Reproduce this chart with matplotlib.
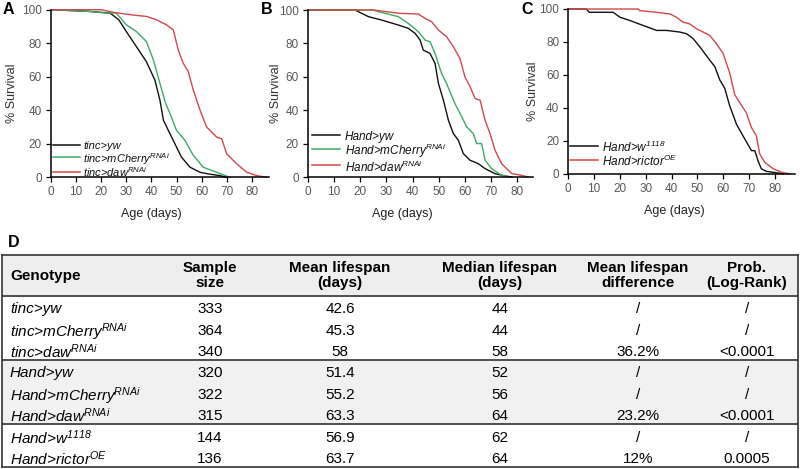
import matplotlib
matplotlib.use("Agg")
import matplotlib.pyplot as plt

plt.rcParams["font.family"] = ["Liberation Sans", "DejaVu Sans"]
plt.rcParams["mathtext.fontset"] = "custom"
plt.rcParams["mathtext.rm"] = "Liberation Sans:italic"
plt.rcParams["mathtext.it"] = "Liberation Sans:italic"
plt.rcParams["mathtext.default"] = "it"

# --- survival curves (age in days, % survival) ---
a_yw_age = [0, 15, 23.5, 27, 30, 34, 38, 41.4, 43.4, 44.8, 48.7, 52, 55.4, 59.4, 62.7, 67.3, 70]
a_yw_surv = [100, 99, 98, 94, 87, 78, 69, 58, 46, 34, 22, 12, 6, 3, 2, 1, 0]
a_mch_age = [0, 15, 22, 26, 30, 34, 38, 40.8, 43.4, 45.7, 47.4, 50, 53.4, 56.7, 60.7, 66, 68.7, 71.3]
a_mch_surv = [100, 99, 98, 98, 91, 87, 81, 70, 56, 44, 38, 28, 22, 13, 6, 3, 1.4, 0]
a_daw_age = [0, 20, 25, 32.8, 38, 42, 46, 48.7, 50.7, 52.7, 54.7, 56.7, 59.4, 62, 66, 68, 70, 74, 78, 82, 86]
a_daw_surv = [100, 100, 98.4, 96.8, 96, 94, 91, 88, 76, 68, 63, 52, 40, 30, 24, 23, 14, 8, 3, 1, 0]

b_yw_age = [0, 18, 20.6, 23.2, 28.2, 34.6, 38.4, 41, 42.9, 44.1, 46.7, 48.6, 49.9, 51.8, 53.7, 55.6,
            57.5, 59.4, 62, 65.1, 67.7, 71.5, 75.3, 78]
b_yw_surv = [100, 100, 98, 96, 94, 91, 89, 86, 82, 76, 74, 68, 56, 46, 34, 26, 22, 14, 10, 8, 5, 2, 0.6, 0]
b_mch_age = [0, 25, 27, 34.6, 38.4, 42.2, 44.8, 46.7, 48.6, 51.1, 53, 56.2, 58.8, 60.7, 63.2, 64.5,
             66.4, 67.7, 70.2, 74, 76.6]
b_mch_surv = [100, 100, 99, 96, 92, 87, 82, 81, 74, 62, 56, 44, 36, 30, 26, 20, 20, 10, 5, 1, 0]
b_daw_age = [0, 25, 30, 35, 42.2, 44.8, 47.3, 49.9, 53, 55.6, 58.1, 60, 62, 63.9, 65.8, 67.7, 69.6,
             71.5, 74, 77.9, 81.7, 84]
b_daw_surv = [100, 100, 99, 98, 97.6, 95, 93, 88, 84, 78, 71, 60, 54, 47, 46, 34, 26, 16, 8, 2, 1, 0]

c_w_age = [0, 7, 8.1, 17.4, 20, 23.9, 29, 34.2, 38, 43.2, 45.8, 48.4, 51, 54.8, 56.8, 58.7, 60.6,
           62.6, 65.2, 67.7, 71, 72.3, 73.5, 74.8, 76.8, 80.6, 83.2]
c_w_surv = [100, 100, 98, 98, 95, 93, 90, 87, 87, 86, 85, 82, 77, 69, 65, 57, 52, 41, 30, 23, 14, 14,
            8, 3, 1.4, 0.6, 0]
c_ric_age = [0, 27, 27.7, 34.2, 39.4, 41.9, 44.5, 47, 49.7, 54.8, 57.4, 60, 62.6, 64.5, 66.5, 69, 71,
             72.9, 74.2, 76.1, 79.4, 83.2, 85.8]
c_ric_surv = [100, 100, 99, 98, 97, 95, 92, 91, 88, 84, 79, 73, 61, 48, 43, 37, 28, 23, 12, 7, 3, 0.6, 0]

# --- table D ---
genotypes = ["tinc>yw", "tinc>mCherry$^{RNAi}$", "tinc>daw$^{RNAi}$",
             "Hand>yw", "Hand>mCherry$^{RNAi}$", "Hand>daw$^{RNAi}$",
             "Hand>w$^{1118}$", "Hand>rictor$^{OE}$"]
sample_size = ["333", "364", "340", "320", "322", "315", "144", "136"]
mean_lifespan = ["42.6", "45.3", "58", "51.4", "55.2", "63.3", "56.9", "63.7"]
median_lifespan = ["44", "44", "58", "52", "56", "64", "62", "64"]
mean_diff = ["/", "/", "36.2%", "/", "/", "23.2%", "/", "12%"]
prob = ["/", "/", "<0.0001", "/", "/", "<0.0001", "/", "0.0005"]
headers = ["Genotype", "Sample\nsize", "Mean lifespan\n(days)", "Median lifespan\n(days)",
           "Mean lifespan\ndifference", "Prob.\n(Log-Rank)"]

BLACK = "#111111"
GREEN = "#3dab62"
RED = "#d24848"
TICK = "#595959"

W, H = 800, 469
fig = plt.figure(figsize=(W / 100, H / 100), dpi=100)


def px_axes(left, top, right, bottom):
    return fig.add_axes([left / W, 1 - bottom / H, (right - left) / W, (bottom - top) / H])


def style_axes(ax, xmax, ylab_off, xlab_age):
    ax.set_xlim(0, xmax)
    ax.set_ylim(0, 100)
    ax.set_xticks(range(0, 81, 10))
    ax.set_yticks(range(0, 101, 20))
    for s in ["top", "right"]:
        ax.spines[s].set_visible(False)
    for s in ["left", "bottom"]:
        ax.spines[s].set_linewidth(1.1)
    ax.tick_params(direction="out", length=3.5, width=0.9, labelsize=8.5,
                   labelcolor=TICK, pad=3)
    ax.set_ylabel("% Survival", fontsize=9, color="#333333")
    ax.set_xlabel("Age (days)", fontsize=9, color="#222222")
    bb = ax.get_position()
    ax.yaxis.set_label_coords(-ylab_off / (bb.width * W), 0.5)
    ax.xaxis.set_label_coords(xlab_age / xmax, -31 / (bb.height * H))


def draw_legend(ax, entries, x0, x1, xt, ys, fs):
    for (lab, col), y in zip(entries, ys):
        fy = 1 - y / H
        ax.plot([x0 / W, x1 / W], [fy, fy], color=col, lw=1.1, transform=fig.transFigure,
                clip_on=False)
        ax.text(xt / W, fy, lab, transform=fig.transFigure, fontsize=fs, style="italic",
                va="center_baseline", ha="left", color="#111111")


# panel A
axA = px_axes(51, 9.7, 51 + 87 * 2.51, 177.3)
axA.plot(a_yw_age, a_yw_surv, color=BLACK, lw=1.0, clip_on=False)
axA.plot(a_mch_age, a_mch_surv, color=GREEN, lw=1.0, clip_on=False)
axA.plot(a_daw_age, a_daw_surv, color=RED, lw=1.0, clip_on=False)
style_axes(axA, 87, 33, 40)
draw_legend(axA, [("tinc>yw", BLACK), ("tinc>mCherry$^{RNAi}$", GREEN), ("tinc>daw$^{RNAi}$", RED)],
            53, 80, 83, [145, 157, 171.5], 8)

# panel B
axB = px_axes(307.7, 10, 307.7 + 86 * 2.62, 177)
axB.plot(b_yw_age, b_yw_surv, color=BLACK, lw=1.0, clip_on=False)
axB.plot(b_mch_age, b_mch_surv, color=GREEN, lw=1.0, clip_on=False)
axB.plot(b_daw_age, b_daw_surv, color=RED, lw=1.0, clip_on=False)
style_axes(axB, 86, 26, 36)
draw_legend(axB, [("Hand>yw", BLACK), ("Hand>mCherry$^{RNAi}$", GREEN), ("Hand>daw$^{RNAi}$", RED)],
            312, 340, 345, [135, 148.5, 165.5], 8.5)

# panel C
axC = px_axes(568.3, 9, 568.3 + 88 * 2.58, 173.7)
axC.plot(c_w_age, c_w_surv, color=BLACK, lw=1.0, clip_on=False)
axC.plot(c_ric_age, c_ric_surv, color=RED, lw=1.0, clip_on=False)
style_axes(axC, 88, 29, 41)
draw_legend(axC, [("Hand>w$^{1118}$", BLACK), ("Hand>rictor$^{OE}$", RED)],
            570, 598, 602, [145.7, 160], 8.5)

# panel letters
for lab, x, y in [("A", 8, 10), ("B", 267, 10), ("C", 527, 10), ("D", 14, 242)]:
    fig.text(x / W, 1 - y / H, lab, fontsize=11.5, fontweight="bold", ha="center", va="center")

# table D
axT = px_axes(2, 255, 798, 467)
HEAD = 1.92
n = len(genotypes)
axT.set_xlim(2, 798)
axT.set_ylim(n + HEAD, 0)
axT.set_xticks([])
axT.set_yticks([])
for s in axT.spines.values():
    s.set_linewidth(1.2)
    s.set_color("#333333")
axT.axhspan(0, HEAD, color="#eeeeee", zorder=0)
axT.axhspan(HEAD + 3, HEAD + 6, color="#f1f1f1", zorder=0)
for yline in [HEAD, HEAD + 3, HEAD + 6]:
    axT.axhline(yline, color="#333333", lw=1.2)

col_x = [10, 210, 340, 500, 638, 747]
fs = 11
axT.text(col_x[0], HEAD / 2, headers[0], fontsize=fs, fontweight="bold", ha="left", va="center")
for x, h in zip(col_x[1:], headers[1:]):
    axT.text(x, HEAD / 2, h, fontsize=fs, fontweight="bold", ha="center", va="center",
             linespacing=1.15)

columns = [sample_size, mean_lifespan, median_lifespan, mean_diff, prob]
for i in range(n):
    yc = HEAD + i + 0.55
    axT.text(col_x[0], yc, genotypes[i], fontsize=fs, style="italic", ha="left",
             va="center_baseline")
    for x, col in zip(col_x[1:], columns):
        axT.text(x, yc, col[i], fontsize=fs, ha="center", va="center_baseline")

fig.savefig("out.png", dpi=100)
